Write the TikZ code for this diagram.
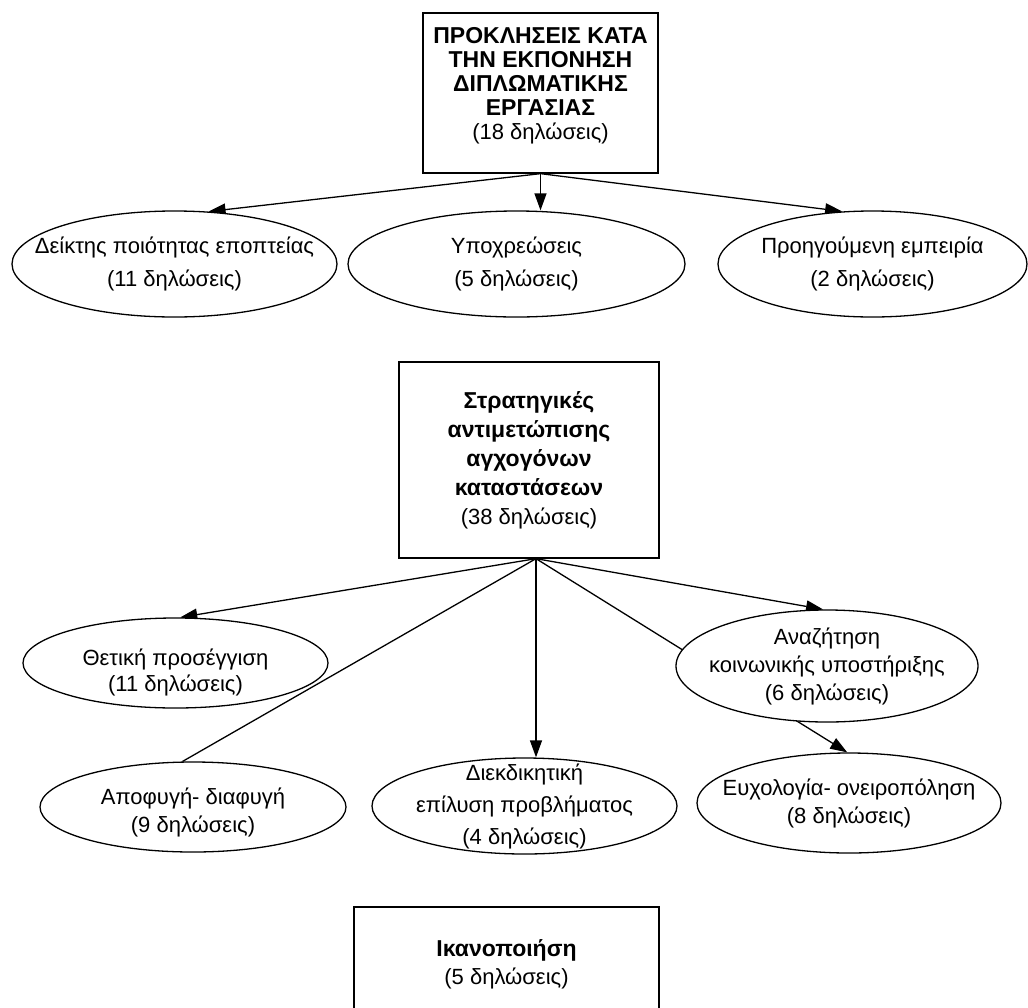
\documentclass[tikz,border=0pt]{standalone}
\usepackage{fontspec}
\setmainfont{Liberation Sans}
\usepackage{tikz}
\usetikzlibrary{shapes.geometric,arrows.meta,backgrounds}

\begin{document}
\begin{tikzpicture}[x=1pt,y=-1pt,
  rectbox/.style={draw,line width=1.3pt,fill=white,inner sep=0pt},
  oval/.style={ellipse,draw,line width=1.3pt,fill=white,inner sep=0pt},
  txt/.style={inner sep=0pt,align=center,font=\fontsize{22}{28}\selectfont},
  bold/.style={font=\bfseries\fontsize{23}{29}\selectfont},
  link/.style={line width=1.3pt},
  linkarr/.style={line width=1.3pt,-{Triangle[length=17pt,width=12pt]}}]
  \useasboundingbox (0,0) rectangle (1028,1007);
  \clip (0,0) rectangle (1028,1007);
  % --- top block: challenges ---
  \node[rectbox,minimum width=235pt,minimum height=160pt,
    label={[txt,font=\fontsize{22}{24}\selectfont,yshift=7pt]center:{\textbf{\fontsize{23}{24}\selectfont ΠΡΟΚΛΗΣΕΙΣ ΚΑΤΑ}\\\textbf{\fontsize{23}{24}\selectfont ΤΗΝ ΕΚΠΟΝΗΣΗ}\\\textbf{\fontsize{23}{24}\selectfont ΔΙΠΛΩΜΑΤΙΚΗΣ}\\\textbf{\fontsize{23}{24}\selectfont ΕΡΓΑΣΙΑΣ}\\(18 δηλώσεις)}}]
    (chal) at (540.5,93) {};
  \node[oval,minimum width=325pt,minimum height=106pt,
    label={[txt,font=\fontsize{22}{33}\selectfont]center:{Δείκτης ποιότητας εποπτείας\\(11 δηλώσεις)}}]
    (supv) at (174.5,264) {};
  \node[oval,minimum width=337pt,minimum height=106pt,
    label={[txt,font=\fontsize{22}{33}\selectfont]center:{Υποχρεώσεις\\(5 δηλώσεις)}}]
    (oblig) at (516.5,264) {};
  \node[oval,minimum width=309pt,minimum height=106pt,
    label={[txt,font=\fontsize{22}{33}\selectfont]center:{Προηγούμενη εμπειρία\\(2 δηλώσεις)}}]
    (exper) at (872.5,264) {};
  % --- middle block: coping strategies ---
  \node[rectbox,minimum width=260pt,minimum height=196pt,
    label={[txt,font=\fontsize{22}{29}\selectfont]center:{\textbf{\fontsize{23}{29}\selectfont Στρατηγικές}\\\textbf{\fontsize{23}{29}\selectfont αντιμετώπισης}\\\textbf{\fontsize{23}{29}\selectfont αγχογόνων}\\\textbf{\fontsize{23}{29}\selectfont καταστάσεων}\\(38 δηλώσεις)}}]
    (strat) at (529,460) {};
  \coordinate (hub) at ([xshift=7pt]strat.south);
  \node[oval,minimum width=305pt,minimum height=90pt,
    label={[txt,font=\fontsize{22}{26}\selectfont,yshift=-9pt]center:{Θετική προσέγγιση\\(11 δηλώσεις)}}]
    (posit) at (175.5,663) {};
  \node[oval,minimum width=302pt,minimum height=112pt,
    label={[txt]center:{Αναζήτηση\\κοινωνικής υποστήριξης\\(6 δηλώσεις)}}]
    (social) at (827,666) {};
  \node[oval,minimum width=306pt,minimum height=90pt,
    label={[txt,yshift=-5pt]center:{Αποφυγή- διαφυγή\\(9 δηλώσεις)}}]
    (avoid) at (193,807) {};
  \node[oval,minimum width=305pt,minimum height=96pt,
    label={[txt,font=\fontsize{22}{32}\selectfont]center:{Διεκδικητική\\επίλυση προβλήματος\\(4 δηλώσεις)}}]
    (assert) at (524.5,806) {};
  \node[oval,minimum width=304pt,minimum height=100pt,
    label={[txt]center:{Ευχολογία- ονειροπόληση\\(8 δηλώσεις)}}]
    (wish) at (849,803) {};
  % --- bottom block: satisfaction ---
  \node[rectbox,minimum width=305pt,minimum height=140pt,
    label={[txt,yshift=13pt]center:{\textbf{\fontsize{23}{28}\selectfont Ικανοποιήση}\\(5 δηλώσεις)}}]
    (satis) at (506.5,977) {};
  % connectors behind the ovals
  \begin{scope}[on background layer]
    \draw[linkarr] (chal.south) -- (supv.57);
    \draw[linkarr] (chal.south) -- (chal.south |- oblig.north);
    \draw[linkarr] (chal.south) -- (exper.120);
    \draw[linkarr] (hub) -- (posit.84);
    \draw[link] (hub) -- (avoid.103);
    \draw[linkarr] (hub) -- (hub |- assert.north);
    \draw[linkarr] (hub) -- (social.94);
    \draw[linkarr] (hub) -- (wish.92);
  \end{scope}
\end{tikzpicture}
\end{document}
